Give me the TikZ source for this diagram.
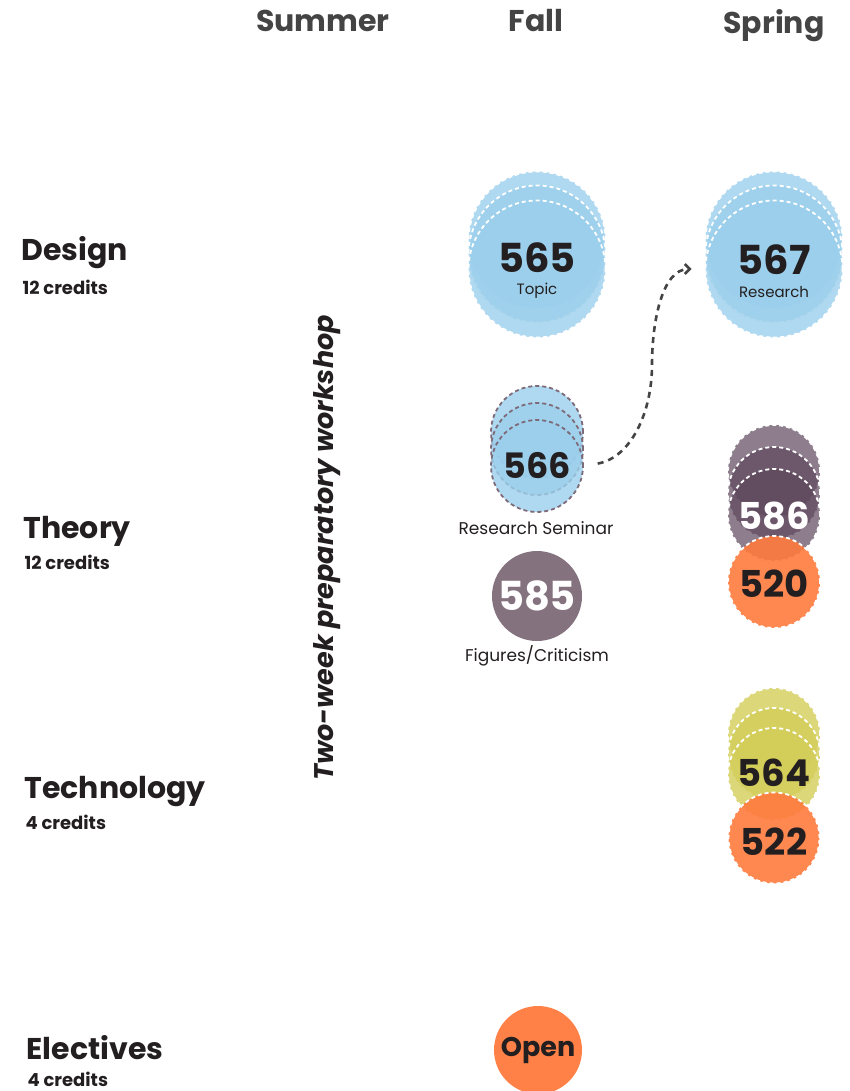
\documentclass[tikz,border=0pt]{standalone}
\usepackage{fontspec}
\setmainfont{Poppins}
\usetikzlibrary{positioning,arrows.meta}

\definecolor{ink}{HTML}{231F20}
\definecolor{headgray}{HTML}{444444}
\definecolor{skyblue}{HTML}{9BCFEC}
\definecolor{mauve}{HTML}{5E475C}
\definecolor{mauvesolid}{HTML}{85727F}
\definecolor{mauveline}{HTML}{7D6B7A}
\definecolor{tangerine}{HTML}{FF7A3D}
\definecolor{olive}{HTML}{D3CD58}

\tikzset{
  course/.style={circle,inner sep=0pt,fill opacity=0.8,draw=white,dashed,
    dash pattern=on 4pt off 3pt,line width=1.8pt},
  bigc/.style={course,minimum size=137pt,fill=skyblue},
  num/.style={font=\bfseries\fontsize{40}{44}\selectfont,text=ink},
  sub/.style={font=\fontsize{15}{18}\selectfont,text=ink},
  caption/.style={font=\fontsize{17}{20}\selectfont,text=ink},
  term/.style={font=\bfseries\fontsize{30}{34}\selectfont,text=headgray,anchor=base},
  area/.style={font=\bfseries\fontsize{30}{34}\selectfont,text=ink,anchor=base west},
  credits/.style={font=\bfseries\fontsize{18}{20}\selectfont,text=ink,anchor=base west},
}

\begin{document}
\begin{tikzpicture}[x=1pt,y=-1pt]
  \useasboundingbox (0,0) rectangle (850,1091);

  % column heads
  \node[term] (summer) at (323,32) {Summer};
  \node[term] (fall) at (536,32) {Fall};
  \node[term] (spring) at (774,34) {Spring};

  % row heads
  \node[area] (design) at (18,260) {Design};
  \node[credits] (designcr) at (19,294) {12 credits};
  \node[area] (theory) at (20,538) {Theory};
  \node[credits] (theorycr) at (21,569) {12 credits};
  \node[area] (tech) at (21,798) {Technology};
  \node[credits] (techcr) at (22,829) {4 credits};
  \node[area] (elect) at (23,1059) {Electives};
  \node[credits] (electcr) at (24,1086) {4 credits};

  \node[rotate=90,font=\bfseries\itshape\fontsize{27}{30}\selectfont,text=ink] (prep) at (327,548)
    {Two-week preparatory workshop};

  % design, fall
  \node[bigc] (c565a) at (537,240) {};
  \node[bigc] (c565b) at (537,254) {};
  \node[bigc] (c565) at (537,269) {};
  \node[num] (n565) at (537,258) {565};
  \node[sub] (t565) at (537,291) {Topic};

  % design, spring
  \node[bigc] (c567a) at (774,240) {};
  \node[bigc] (c567b) at (774,254) {};
  \node[bigc] (c567) at (774,269) {};
  \node[num] (n567) at (774,260) {567};
  \node[sub] (t567) at (774,292) {Research};

  % theory, fall
  \node[course,minimum size=92pt,fill=skyblue,draw=mauveline] (c566a) at (537,432) {};
  \node[course,minimum size=92pt,fill=skyblue,draw=mauveline] (c566b) at (537,449) {};
  \node[course,minimum size=92pt,fill=skyblue,draw=mauveline] (c566) at (537,466) {};
  \node[num,font=\bfseries\fontsize{35}{40}\selectfont] (n566) at (537,466) {566};
  \node[caption] (t566) at (536,528) {Research Seminar};

  \node[circle,minimum size=90pt,fill=mauvesolid] (c585) at (537,596) {};
  \node[num,text=white] (n585) at (537,596) {585};
  \node[caption] (t585) at (537,656) {Figures/Criticism};

  % theory, spring
  \node[course,minimum size=92pt,fill=mauve,fill opacity=0.7] (c586a) at (774,471) {};
  \node[course,minimum size=92pt,fill=mauve,fill opacity=0.7] (c586b) at (774,493) {};
  \node[course,minimum size=92pt,fill=mauve,fill opacity=0.7] (c586) at (774,515) {};
  \node[num,text=white,font=\bfseries\fontsize{37}{40}\selectfont] (n586) at (774,516) {586};
  \node[course,minimum size=92pt,fill=tangerine,fill opacity=0.9] (c520) at (774,582) {};
  \node[num,font=\bfseries\fontsize{37}{40}\selectfont] (n520) at (774,584) {520};

  % technology, spring
  \node[course,minimum size=92pt,fill=olive,fill opacity=0.8] (c564a) at (774,734) {};
  \node[course,minimum size=92pt,fill=olive,fill opacity=0.8] (c564b) at (774,754) {};
  \node[course,minimum size=92pt,fill=olive,fill opacity=0.8] (c564) at (774,774) {};
  \node[num,font=\bfseries\fontsize{37}{40}\selectfont] (n564) at (774,773) {564};
  \node[course,minimum size=91pt,fill=tangerine,fill opacity=0.9] (c522) at (774,838) {};
  \node[num,font=\bfseries\fontsize{37}{40}\selectfont] (n522) at (774,842) {522};

  % electives
  \node[circle,minimum size=88pt,fill=tangerine,fill opacity=0.95] (copen) at (538,1050) {};
  \node[num,font=\bfseries\fontsize{27}{30}\selectfont] (nopen) at (538,1050) {Open};

  % seminar leads into research
  \coordinate (bend) at (652,365);
  \draw[headgray,line width=2.6pt,dash pattern=on 6pt off 5pt,-{Straight Barb[length=5pt,width=10pt]},
    shorten <=14pt,shorten >=13pt]
    (c566.east) to[out=10,in=-90] (bend) to[out=90,in=180] (c567.west);
\end{tikzpicture}
\end{document}
